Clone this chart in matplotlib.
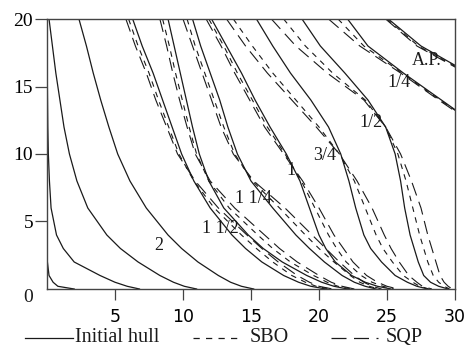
import numpy as np
import matplotlib.pyplot as plt
from matplotlib.lines import Line2D

nan = np.nan

heights = [20, 18, 16, 14, 12, 10, 8, 6, 4, 3, 2, 1, 0.5, 0.2, 0]

# initial hull, one list per station (x at each height)
init_6 = [nan, nan, nan, nan, nan, nan, nan, nan, nan, nan, 0.03, 0.15, 0.45, 0.8, 2.0]
init_5 = [0.0, 0.01, 0.02, 0.04, 0.06, 0.1, 0.18, 0.3, 0.7, 1.2, 2.0, 3.9, 5.0, 5.9, 6.8]
init_4 = [0.15, 0.4, 0.65, 0.95, 1.25, 1.65, 2.2, 3.0, 4.4, 5.4, 6.7, 8.3, 9.3, 10.1, 11.0]
init_3 = [2.35, 2.9, 3.4, 3.95, 4.55, 5.2, 6.1, 7.3, 8.9, 9.9, 11.1, 12.6, 13.5, 14.3, 15.2]
init_2 = [6.3, 7.0, 7.8, 8.5, 9.2, 9.9, 10.8, 12.0, 13.6, 14.6, 15.8, 17.4, 18.5, 19.4, 20.5]
init_112 = [8.9, 9.35, 9.8, 10.25, 10.7, 11.2, 11.9, 13.0, 14.8, 15.9, 17.3, 19.1, 20.2, 21.1, 22.1]
init_114 = [10.7, 11.3, 12.0, 12.7, 13.3, 14.0, 15.0, 16.6, 18.3, 19.3, 20.4, 21.7, 22.6, 23.4, 24.2]
init_1 = [12.1, 13.2, 14.3, 15.3, 16.4, 17.6, 18.6, 19.3, 20.0, 20.5, 21.2, 22.4, 23.4, 24.3, 25.3]
init_34 = [15.4, 16.6, 17.9, 19.4, 20.7, 21.6, 22.2, 22.7, 23.3, 23.8, 24.6, 25.6, 26.5, 27.2, 28.0]
init_12 = [18.75, 20.1, 21.9, 23.6, 24.9, 25.6, 26.0, 26.3, 26.7, 27.0, 27.3, 27.7, 28.2, 28.8, 29.5]
init_14 = [22.1, 23.6, 26.2, 29.0, 31.8, nan, nan, nan, nan, nan, nan, nan, nan, nan, nan]
init_ap = [25.1, 27.5, 31.0, nan, nan, nan, nan, nan, nan, nan, nan, nan, nan, nan, nan]

# SBO optimised hull
sbo_2 = [6.0, 6.7, 7.5, 8.2, 8.95, 9.7, 10.8, 12.3, 14.3, 15.4, 16.6, 18.0, 19.0, 19.8, 20.8]
sbo_112 = [8.5, 9.0, 9.45, 9.95, 10.45, 11.0, 11.9, 13.4, 15.5, 16.6, 17.9, 19.6, 20.6, 21.4, 22.4]
sbo_114 = [10.3, 10.9, 11.6, 12.3, 13.0, 13.8, 15.1, 17.1, 19.0, 20.0, 21.1, 22.3, 23.0, 23.7, 24.4]
sbo_1 = [11.9, 13.0, 14.0, 15.1, 16.2, 17.5, 18.7, 19.7, 20.7, 21.3, 22.0, 23.1, 23.9, 24.7, 25.5]
sbo_34 = [13.7, 15.1, 16.6, 18.3, 20.0, 21.5, 22.6, 23.4, 24.2, 24.7, 25.4, 26.2, 26.9, 27.4, 28.1]
sbo_12 = [17.4, 19.0, 21.0, 23.4, 24.9, 25.8, 26.4, 26.9, 27.4, 27.7, 28.0, 28.4, 28.8, 29.2, 29.6]
sbo_14 = [21.4, 23.3, 26.1, 28.9, 31.8, nan, nan, nan, nan, nan, nan, nan, nan, nan, nan]
sbo_ap = [25.0, 27.3, 30.9, nan, nan, nan, nan, nan, nan, nan, nan, nan, nan, nan, nan]

# SQP optimised hull
sqp_2 = [5.8, 6.5, 7.3, 8.0, 8.8, 9.6, 10.9, 12.6, 14.7, 15.8, 17.0, 18.4, 19.3, 20.0, 21.0]
sqp_112 = [8.3, 8.8, 9.25, 9.75, 10.3, 10.9, 12.0, 13.8, 16.0, 17.1, 18.4, 20.0, 20.9, 21.7, 22.6]
sqp_114 = [10.0, 10.7, 11.4, 12.1, 12.8, 13.7, 15.2, 17.5, 19.5, 20.5, 21.5, 22.6, 23.3, 23.9, 24.6]
sqp_1 = [11.7, 12.8, 13.8, 14.9, 16.0, 17.4, 18.8, 20.0, 21.1, 21.8, 22.5, 23.5, 24.3, 25.0, 25.8]
sqp_34 = [13.2, 14.6, 16.2, 18.0, 19.8, 21.5, 22.8, 23.9, 24.8, 25.3, 25.9, 26.6, 27.2, 27.6, 28.3]
sqp_12 = [16.5, 18.3, 20.6, 23.3, 24.9, 26.0, 26.8, 27.5, 28.0, 28.3, 28.6, 28.9, 29.2, 29.5, 29.8]
sqp_14 = [20.7, 23.0, 26.0, 28.8, 31.7, nan, nan, nan, nan, nan, nan, nan, nan, nan, nan]
sqp_ap = [24.9, 27.2, 30.8, nan, nan, nan, nan, nan, nan, nan, nan, nan, nan, nan, nan]

station_names = ['A.P.', '1/4', '1/2', '3/4', '1', '1 1/4', '1 1/2', '2']
name_x = [26.8, 25.0, 23.0, 19.6, 17.6, 13.8, 11.4, 7.9]
name_y = [16.9, 15.3, 12.3, 9.9, 8.8, 6.7, 4.5, 3.2]

legend_names = ['Initial hull', 'SBO', 'SQP']

serif = 'Liberation Serif'
ink = '#1a1a1a'
sbo_style = (0, (5, 5))
sqp_style = (0, (12, 6))

fig = plt.figure(figsize=(4.68, 3.52), dpi=100)
ax = fig.add_axes([0.1004, 0.179, 0.8718, 0.767])

initial = [init_6, init_5, init_4, init_3, init_2, init_112, init_114,
           init_1, init_34, init_12, init_14, init_ap]
sbo = [sbo_2, sbo_112, sbo_114, sbo_1, sbo_34, sbo_12, sbo_14, sbo_ap]
sqp = [sqp_2, sqp_112, sqp_114, sqp_1, sqp_34, sqp_12, sqp_14, sqp_ap]

for xs in initial:
    ax.plot(xs, heights, color=ink, lw=0.9)
for xs in sbo:
    ax.plot(xs, heights, color=ink, lw=0.8, linestyle=sbo_style)
for xs in sqp:
    ax.plot(xs, heights, color=ink, lw=0.8, linestyle=sqp_style)

for name, lx, ly in zip(station_names, name_x, name_y):
    ax.text(lx, ly, name, family=serif, fontsize=13, color=ink,
            ha='left', va='center')

ax.set_xlim(0, 30)
ax.set_ylim(0, 20)
for s in ax.spines.values():
    s.set_color('#444444')
    s.set_linewidth(1.0)

ax.set_xticks([5, 10, 15, 20, 25, 30])
ax.set_yticks([5, 10, 15, 20])
ax.tick_params(axis='x', direction='out', length=8, width=0.9, color='#444444',
               labelsize=12.5, pad=6)
ax.tick_params(axis='y', direction='out', length=9, width=0.9, color='#444444',
               labelsize=14, pad=1)
for t in ax.get_yticklabels():
    t.set_family(serif)
ax.annotate('0', xy=(0, 0), xytext=(-10, -6), textcoords='offset points',
            family=serif, fontsize=14, ha='right', va='center', color=ink)

# legend below the plot, laid out by hand
legend_styles = ['-', sbo_style, sqp_style]
legend_line_x = [(25, 73), (193, 243), (331, 378)]
legend_text_x = [75, 250, 386]
for name, style, (x0, x1), tx in zip(legend_names, legend_styles,
                                     legend_line_x, legend_text_x):
    fig.lines.append(Line2D([x0 / 468, x1 / 468], [0.04, 0.04], color=ink,
                            lw=0.9, linestyle=style, transform=fig.transFigure))
    fig.text(tx / 468, 0.04, name, family=serif, fontsize=14.5,
             color=ink, ha='left', va='center')

fig.savefig('out.png', dpi=100)
